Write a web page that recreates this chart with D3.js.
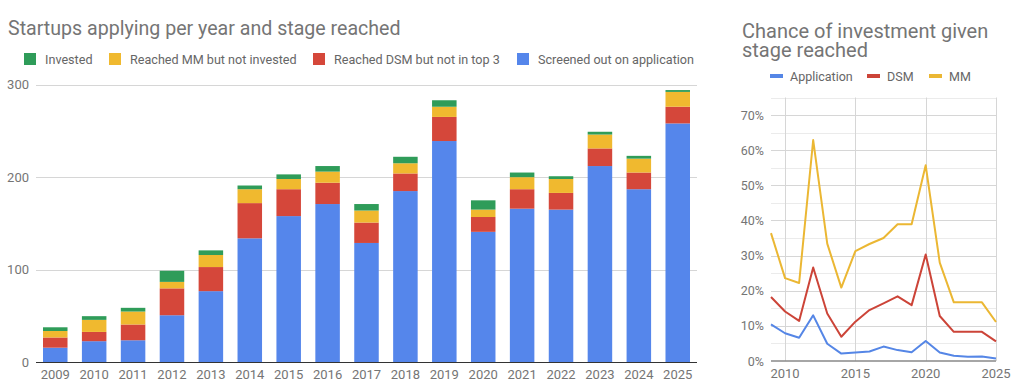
<!DOCTYPE html>
<html>
<head>
<meta charset="utf-8">
<style>
  body { margin: 0; background: #fff; }
  text { font-family: Roboto, "Open Sans", sans-serif; }
</style>
</head>
<body>
<div id="chart"></div>
<script src="https://cdn.jsdelivr.net/npm/d3@7"></script>
<script>
// ---- data: left chart (stacked counts) ----
var years = ["2009","2010","2011","2012","2013","2014","2015","2016","2017","2018","2019","2020","2021","2022","2023","2024","2025"];
var screened = [16, 23, 24, 51, 77, 134, 158, 171, 129, 185, 239, 141, 166, 165, 212, 187, 258];
var dsm      = [11, 10, 17, 29, 26, 38, 29, 23, 22, 19, 26, 16, 21, 18, 19, 18, 18];
var mm       = [7, 13, 14, 7, 13, 15, 11, 12, 13, 11, 11, 8, 13, 15, 15, 15, 16];
var invested = [4, 4, 4, 12, 5, 4, 5, 6, 7, 7, 7, 10, 5, 3, 3, 3, 2];
var countTicks = [0, 100, 200, 300];

// ---- data: right chart (chance of investment, %) ----
var lineYears = [2009,2010,2011,2012,2013,2014,2015,2016,2017,2018,2019,2020,2021,2022,2023,2024,2025];
var pApplication = [10.4, 7.9, 6.6, 13.0, 4.9, 2.1, 2.4, 2.7, 4.1, 3.1, 2.5, 5.7, 2.4, 1.5, 1.2, 1.3, 0.7];
var pDSM = [18.2, 14.1, 11.4, 26.6, 13.5, 6.9, 11.2, 14.5, 16.4, 18.4, 15.9, 30.3, 12.8, 8.3, 8.3, 8.3, 5.6];
var pMM  = [36.4, 23.6, 22.2, 62.9, 33.4, 20.9, 31.3, 33.3, 35.0, 38.9, 38.9, 55.7, 28.0, 16.7, 16.7, 16.7, 11.1];
var pctTicks = [0, 10, 20, 30, 40, 50, 60, 70];
var yearTicks = [2010, 2015, 2020, 2025];

var W = 1017, H = 385;
var grey = "#757575";
var colors = { invested: "#2f9c59", mm: "#f0b92f", dsm: "#d5473a", screened: "#5586eb" };

var svg = d3.select("#chart").append("svg")
    .attr("width", W).attr("height", H);

// =================== left chart ===================
var rows = years.map(function (y, i) {
    return { year: y, screened: screened[i], dsm: dsm[i], mm: mm[i], invested: invested[i] };
});
var keys = ["screened", "dsm", "mm", "invested"];
var stack = d3.stack().keys(keys)(rows);

var x = d3.scaleBand().domain(years).range([36, 697]).paddingInner(0.37).paddingOuter(0.18);
var y = d3.scaleLinear().domain([0, 300]).range([362.5, 84.5]);

svg.append("text").attr("x", 8).attr("y", 35)
    .attr("font-size", 19.6).attr("fill", grey)
    .text("Startups applying per year and stage reached");

// legend
var legendItems = [
    { key: "invested", label: "Invested", x: 24 },
    { key: "mm", label: "Reached MM but not invested", x: 109 },
    { key: "dsm", label: "Reached DSM but not in top 3", x: 313 },
    { key: "screened", label: "Screened out on application", x: 517 }
];
var lg = svg.append("g").selectAll("g").data(legendItems).enter().append("g")
    .attr("transform", function (d) { return "translate(" + d.x + ",53)"; });
lg.append("rect").attr("width", 12).attr("height", 12).attr("fill", function (d) { return colors[d.key]; });
lg.append("text").attr("x", 21).attr("y", 10.5).attr("font-size", 12.6).attr("fill", "#666")
    .text(function (d) { return d.label; });

// grid
svg.append("g").selectAll("line").data(countTicks.slice(1)).enter().append("line")
    .attr("x1", 36).attr("x2", 697)
    .attr("y1", function (d) { return Math.round(y(d)) + 0.5; })
    .attr("y2", function (d) { return Math.round(y(d)) + 0.5; })
    .attr("stroke", "#d6d6d6");

svg.append("g").selectAll("text").data(countTicks).enter().append("text")
    .attr("x", 29).attr("y", function (d) { return y(d) + 4.5; })
    .attr("text-anchor", "end").attr("font-size", 13).attr("fill", grey)
    .text(function (d) { return d; });

svg.append("g").selectAll("g").data(stack).enter().append("g")
    .attr("fill", function (s) { return colors[s.key]; })
    .selectAll("rect").data(function (s) { return s; }).enter().append("rect")
    .attr("x", function (d) { return x(d.data.year); })
    .attr("width", x.bandwidth())
    .attr("y", function (d) { return y(d[1]); })
    .attr("height", function (d) { return y(d[0]) - y(d[1]); });

svg.append("line").attr("x1", 36).attr("x2", 697).attr("y1", 362.5).attr("y2", 362.5)
    .attr("stroke", "#333").attr("stroke-width", 1);

svg.append("g").selectAll("text").data(years).enter().append("text")
    .attr("x", function (d) { return x(d) + x.bandwidth() / 2; })
    .attr("y", 379).attr("text-anchor", "middle").attr("font-size", 13).attr("fill", grey)
    .text(function (d) { return d; });

// =================== right chart ===================
var x2 = d3.scaleLinear().domain([2009, 2025]).range([771, 996]);
var y2 = d3.scaleLinear().domain([0, 75]).range([361, 97.5]);

var t = svg.append("text").attr("font-size", 20).attr("fill", grey);
t.append("tspan").attr("x", 742).attr("y", 37.5).text("Chance of investment given");
t.append("tspan").attr("x", 742).attr("y", 57).text("stage reached");

var lineItems = [
    { label: "Application", color: "#5586e6", vals: pApplication, x: 770 },
    { label: "DSM", color: "#cc4438", vals: pDSM, x: 867 },
    { label: "MM", color: "#ebb733", vals: pMM, x: 929 }
];
var lg2 = svg.append("g").selectAll("g").data(lineItems).enter().append("g")
    .attr("transform", function (d) { return "translate(" + d.x + ",76)"; });
lg2.append("rect").attr("y", -2).attr("width", 13).attr("height", 4).attr("fill", function (d) { return d.color; });
lg2.append("text").attr("x", 20).attr("y", 4.5).attr("font-size", 12.5).attr("fill", "#666")
    .text(function (d) { return d.label; });

// minor + major horizontal grid
var minor = d3.range(5, 80, 10);
svg.append("g").selectAll("line").data(minor).enter().append("line")
    .attr("x1", 771).attr("x2", 996)
    .attr("y1", function (d) { return Math.round(y2(d)) + 0.5; })
    .attr("y2", function (d) { return Math.round(y2(d)) + 0.5; })
    .attr("stroke", "#ebebeb");
svg.append("g").selectAll("line").data(pctTicks.slice(1)).enter().append("line")
    .attr("x1", 771).attr("x2", 996)
    .attr("y1", function (d) { return Math.round(y2(d)) + 0.5; })
    .attr("y2", function (d) { return Math.round(y2(d)) + 0.5; })
    .attr("stroke", "#d6d6d6");
svg.append("g").selectAll("line").data(yearTicks).enter().append("line")
    .attr("x1", function (d) { return Math.round(x2(d)) + 0.5; })
    .attr("x2", function (d) { return Math.round(x2(d)) + 0.5; })
    .attr("y1", 97.5).attr("y2", 361)
    .attr("stroke", "#d6d6d6");

svg.append("g").selectAll("text").data(pctTicks).enter().append("text")
    .attr("x", 764).attr("y", function (d) { return y2(d) + 4.5; })
    .attr("text-anchor", "end").attr("font-size", 12.5).attr("fill", grey)
    .text(function (d) { return d + "%"; });

svg.append("g").selectAll("text").data(yearTicks).enter().append("text")
    .attr("x", function (d) { return x2(d); })
    .attr("y", 378).attr("text-anchor", "middle").attr("font-size", 13).attr("fill", grey)
    .text(function (d) { return d; });

var line = d3.line()
    .x(function (d, i) { return x2(lineYears[i]); })
    .y(function (d) { return y2(d); });

svg.append("line").attr("x1", 771).attr("x2", 996).attr("y1", 361).attr("y2", 361)
    .attr("stroke", "#888").attr("stroke-width", 1.5);

svg.append("g").selectAll("path").data(lineItems.slice().reverse()).enter().append("path")
    .attr("d", function (d) { return line(d.vals); })
    .attr("fill", "none").attr("stroke", function (d) { return d.color; })
    .attr("stroke-width", 2).attr("stroke-linejoin", "round");
</script>
</body>
</html>
